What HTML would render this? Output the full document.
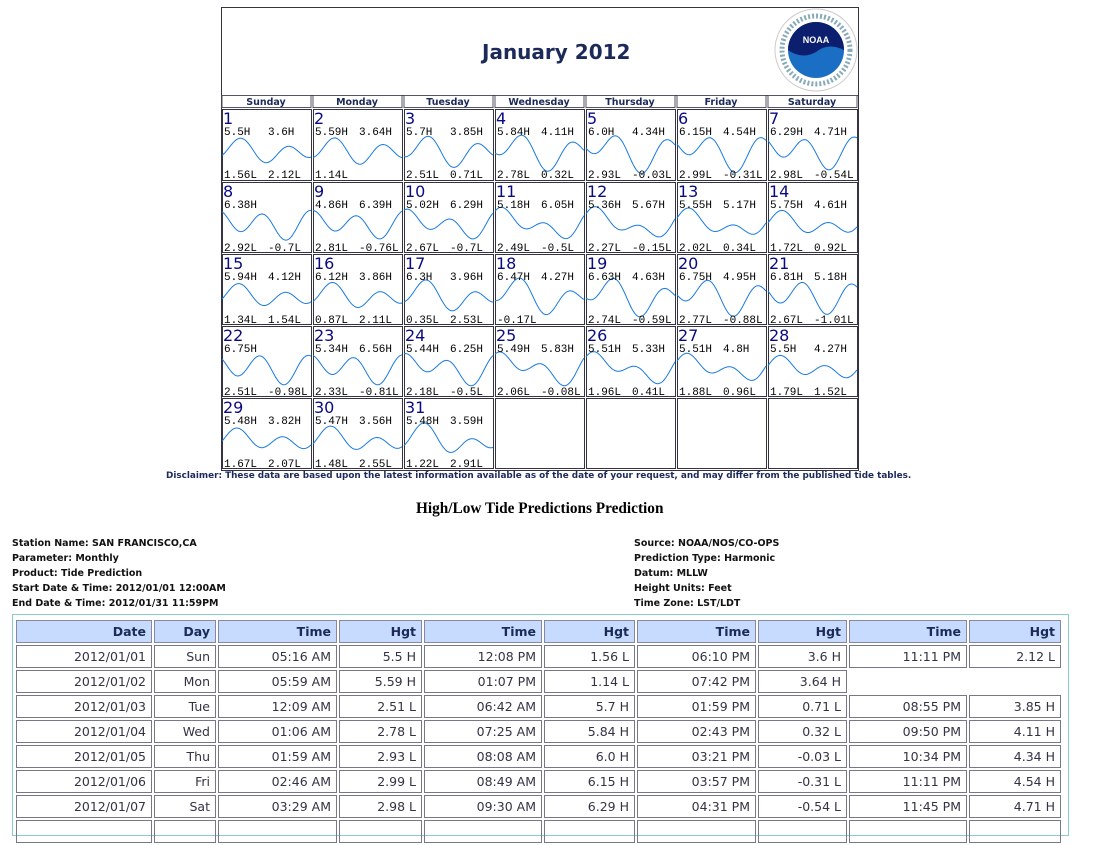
<!DOCTYPE html>
<html><head><meta charset="utf-8"><style>
body{margin:0;width:1102px;height:824px;background:#fff;position:relative;overflow:hidden;font-family:"DejaVu Sans","Liberation Sans",sans-serif}
.a{position:absolute;white-space:nowrap}
.info{font-size:9.5px;font-weight:bold;color:#111}
table{border-collapse:separate;border-spacing:2px}
td,th{font-size:12.5px;text-align:right;padding:0 5px;height:21px;border:1px solid #778;color:#334}
th{background:#c6dbff;color:#1c2a55;font-weight:bold;border-color:#889}
</style></head><body>
<div class="a" style="left:221px;top:7px;width:636px;height:462px;border:1px solid #334"></div>
<div class="a" style="left:221px;top:95px;width:638px;height:1px;background:#334"></div>
<div class="a" style="left:482px;top:40px;font-size:20px;font-weight:bold;color:#1c2a5a">January 2012</div>
<svg class="a" style="left:772px;top:8px" width="90" height="86">
<circle cx="44" cy="42" r="41" fill="#fff" stroke="#ccc"/>
<circle cx="44" cy="42" r="28" fill="#1a6fc4"/>
<path d="M16,42 A28,28 0 0,1 72,42 Q56,34 44,44 Q30,52 16,42Z" fill="#0b1f6e"/>
<text x="44" y="35" font-size="9" font-weight="bold" fill="#fff" text-anchor="middle" font-family="Liberation Sans">NOAA</text>
<circle cx="44" cy="42" r="34" fill="none" stroke="#8ab" stroke-width="5" stroke-dasharray="2 2"/>
</svg>
<svg id="cal" class="a" style="left:0;top:0" width="1102" height="480"></svg>
<div class="a" style="left:166px;top:471px;font-size:8.85px;font-weight:bold;color:#1c2a5a">Disclaimer: These data are based upon the latest information available as of the date of your request, and may differ from the published tide tables.</div>
<div class="a" style="left:416px;top:500px;font-family:'Liberation Serif',serif;font-size:15.3px;font-weight:bold">High/Low Tide Predictions Prediction</div>
<div class="a info" style="left:12px;top:536px;line-height:15px">Station Name: SAN FRANCISCO,CA<br>Parameter: Monthly<br>Product: Tide Prediction<br>Start Date &amp; Time: 2012/01/01 12:00AM<br>End Date &amp; Time: 2012/01/31 11:59PM</div>
<div class="a info" style="left:634px;top:536px;line-height:15px">Source: NOAA/NOS/CO-OPS<br>Prediction Type: Harmonic<br>Datum: MLLW<br>Height Units: Feet<br>Time Zone: LST/LDT</div>
<div class="a" style="left:12px;top:614px;width:1055px;height:220px;border:1px solid #8cc"></div>
<table class="a" id="t" style="left:14px;top:618px">
<colgroup><col style="width:136px"><col style="width:62px"><col style="width:119px"><col style="width:83px"><col style="width:118px"><col style="width:91px"><col style="width:119px"><col style="width:89px"><col style="width:118px"><col style="width:92px"></colgroup>
<tr><th>Date</th><th>Day</th><th>Time</th><th>Hgt</th><th>Time</th><th>Hgt</th><th>Time</th><th>Hgt</th><th>Time</th><th>Hgt</th></tr>
</table>
<script>
var rows=[["2012/01/01","Sun","05:16 AM","5.5 H","12:08 PM","1.56 L","06:10 PM","3.6 H","11:11 PM","2.12 L"],
["2012/01/02","Mon","05:59 AM","5.59 H","01:07 PM","1.14 L","07:42 PM","3.64 H"],
["2012/01/03","Tue","12:09 AM","2.51 L","06:42 AM","5.7 H","01:59 PM","0.71 L","08:55 PM","3.85 H"],
["2012/01/04","Wed","01:06 AM","2.78 L","07:25 AM","5.84 H","02:43 PM","0.32 L","09:50 PM","4.11 H"],
["2012/01/05","Thu","01:59 AM","2.93 L","08:08 AM","6.0 H","03:21 PM","-0.03 L","10:34 PM","4.34 H"],
["2012/01/06","Fri","02:46 AM","2.99 L","08:49 AM","6.15 H","03:57 PM","-0.31 L","11:11 PM","4.54 H"],
["2012/01/07","Sat","03:29 AM","2.98 L","09:30 AM","6.29 H","04:31 PM","-0.54 L","11:45 PM","4.71 H"],
["","","","","","","","","",""]];
var t=document.getElementById('t');
rows.forEach(function(r){var tr=document.createElement('tr');var h='';for(var i=0;i<10;i++){var v=r[i];if(v===undefined){h+='<td style="border:none"></td>';}else h+='<td>'+v+'</td>';}tr.innerHTML=h;t.appendChild(tr);});
var d=[["5.5H","3.6H","1.56L","2.12L"],["5.59H","3.64H","1.14L",""],["5.7H","3.85H","2.51L","0.71L"],["5.84H","4.11H","2.78L","0.32L"],["6.0H","4.34H","2.93L","-0.03L"],["6.15H","4.54H","2.99L","-0.31L"],["6.29H","4.71H","2.98L","-0.54L"],
["6.38H","","2.92L","-0.7L"],["4.86H","6.39H","2.81L","-0.76L"],["5.02H","6.29H","2.67L","-0.7L"],["5.18H","6.05H","2.49L","-0.5L"],["5.36H","5.67H","2.27L","-0.15L"],["5.55H","5.17H","2.02L","0.34L"],["5.75H","4.61H","1.72L","0.92L"],
["5.94H","4.12H","1.34L","1.54L"],["6.12H","3.86H","0.87L","2.11L"],["6.3H","3.96H","0.35L","2.53L"],["6.47H","4.27H","-0.17L",""],["6.63H","4.63H","2.74L","-0.59L"],["6.75H","4.95H","2.77L","-0.88L"],["6.81H","5.18H","2.67L","-1.01L"],
["6.75H","","2.51L","-0.98L"],["5.34H","6.56H","2.33L","-0.81L"],["5.44H","6.25H","2.18L","-0.5L"],["5.49H","5.83H","2.06L","-0.08L"],["5.51H","5.33H","1.96L","0.41L"],["5.51H","4.8H","1.88L","0.96L"],["5.5H","4.27H","1.79L","1.52L"],
["5.48H","3.82H","1.67L","2.07L"],["5.47H","3.56H","1.48L","2.55L"],["5.48H","3.59H","1.22L","2.91L"]];
var s='',xs=[221,312,403,494,585,676,767,858],ys=[108,181,253,325,397,469];
var days=["Sunday","Monday","Tuesday","Wednesday","Thursday","Friday","Saturday"];
for(var i=0;i<7;i++){s+='<rect x="'+(xs[i]+1)+'" y="95.5" width="89" height="12" fill="none" stroke="#556"/><text x="'+(xs[i]+45)+'" y="105" font-size="9.5" font-weight="bold" fill="#1c2a5a" text-anchor="middle" font-family="DejaVu Sans">'+days[i]+'</text>';}
for(var k=0;k<35;k++){var c=k%7,r=Math.floor(k/7),x=xs[c],y=ys[r];
s+='<rect x="'+(x+1.5)+'" y="'+(y+1.5)+'" width="89" height="'+(ys[r+1]-y-2)+'" fill="none" stroke="#334" stroke-width="1"/>';
if(k<31){var dd=d[k];
var p='';for(var px=0;px<=89;px++){var tt=k*24+px/89*24;var wk=1+0.25*Math.cos(2*Math.PI*(k-5)/14.77);var dm=0.7+0.9*(Math.cos(2*Math.PI*(k-4)/13.66))**2;
var h=3.0+1.6*wk*Math.cos(2*Math.PI*(tt-5.27)/12.42)+dm*Math.cos(2*Math.PI*(tt-3)/24.84+k*0.2);
var yy=y+62-h*6.3;yy=Math.max(y+18,Math.min(y+70,yy));p+=(px?'L':'M')+(x+1+px)+','+yy.toFixed(1);}
s+='<path d="'+p+'" fill="none" stroke="#1a7ae0" stroke-width="1"/>';
s+='<text x="'+(x+2)+'" y="'+(y+16)+'" font-size="16" fill="#0a0a80" font-family="DejaVu Sans">'+(k+1)+'</text>';
s+='<text x="'+(x+3)+'" y="'+(y+27)+'" font-size="11" font-family="Liberation Mono">'+dd[0]+'</text><text x="'+(x+47)+'" y="'+(y+27)+'" font-size="11" font-family="Liberation Mono">'+dd[1]+'</text>';
s+='<text x="'+(x+3)+'" y="'+(y+70)+'" font-size="11" font-family="Liberation Mono">'+dd[2]+'</text><text x="'+(x+47)+'" y="'+(y+70)+'" font-size="11" font-family="Liberation Mono">'+dd[3]+'</text>';}}
document.getElementById('cal').innerHTML=s;
</script>
</body></html>
